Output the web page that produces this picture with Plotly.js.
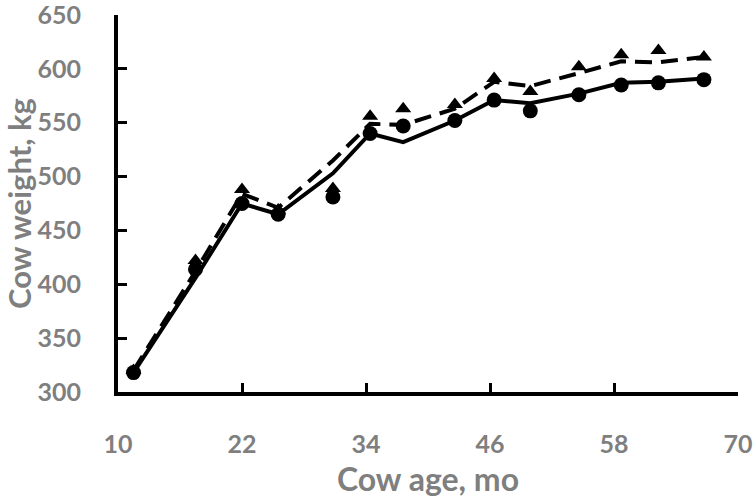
<!DOCTYPE html>
<html>
<head>
<meta charset="utf-8">
<script src="https://cdn.plot.ly/plotly-3.0.1.min.js"></script>
<style>
  html, body { margin: 0; padding: 0; background: #fff; }
  #chart { width: 755px; height: 498px; }
</style>
</head>
<body>
<div id="chart"></div>
<script>
// cow age (months) at each weighing
const ageMo = [11.5, 17.5, 22, 25.5, 30.8, 34.4, 37.6, 42.6, 46.4, 49.9, 54.6, 58.7, 62.3, 66.7];

// observed weights, kg
const obsCircle = [318, 414, 475, 465, 481, 540, 547, 552, 571, 561, 576, 585, 587, 590];
const obsTriangle = [320, 422, 488, 469, 489, 556, 563, 567, 591, 579, 602, 613, 617, 611];

// fitted weights, kg
const fitSolid = [318, 406, 475, 465, 503, 540, 532, 552, 571, 568, 577, 587, 588, 591];
const fitDashed = [320, 412, 484, 471, 515, 549, 548, 563, 588, 584, 596, 607, 606, 611];

const xTicks = [10, 22, 34, 46, 58, 70];
const yTicks = [300, 350, 400, 450, 500, 550, 600, 650];

const grey = "#7f7f7f";
const fontFam = "Lato, 'Open Sans', sans-serif";

const traces = [
  {
    x: ageMo, y: fitSolid, mode: "lines",
    line: {color: "#000", width: 4}
  },
  {
    x: ageMo, y: fitDashed, mode: "lines",
    line: {color: "#000", width: 4, dash: "17px,9px"}
  },
  {
    x: ageMo, y: obsTriangle, mode: "markers",
    marker: {symbol: "triangle-up", size: 14, color: "#000"}
  },
  {
    x: ageMo, y: obsCircle, mode: "markers",
    marker: {symbol: "circle", size: 15, color: "#000"}
  }
];

const layout = {
  width: 755, height: 498,
  margin: {l: 118, r: 17, t: 15, b: 106},
  paper_bgcolor: "#fff", plot_bgcolor: "#fff",
  showlegend: false,
  font: {family: fontFam, color: grey},
  xaxis: {
    range: [10, 70], tickvals: xTicks, ticktext: xTicks.map(String),
    showgrid: false, zeroline: false,
    showline: true, linecolor: "#000", linewidth: 4,
    ticks: "inside", ticklen: 9, tickwidth: 3, tickcolor: "#000",
    ticklabelstandoff: 27, ticklabeloverflow: "allow",
    tickfont: {family: fontFam, size: 25, color: grey, weight: "bold"},
    title: {text: "Cow age, mo", standoff: 14,
            font: {family: fontFam, size: 32, color: grey, weight: "bold"}}
  },
  yaxis: {
    range: [300, 650], tickvals: yTicks, ticktext: yTicks.map(String),
    showgrid: false, zeroline: false,
    showline: true, linecolor: "#000", linewidth: 4,
    ticks: "inside", ticklen: 9, tickwidth: 3, tickcolor: "#000",
    ticklabelstandoff: 28, ticklabeloverflow: "allow",
    tickfont: {family: fontFam, size: 25, color: grey, weight: "bold"},
    title: {text: "Cow weight, kg", standoff: 8,
            font: {family: fontFam, size: 31, color: grey, weight: "bold"}}
  }
};

Plotly.newPlot("chart", traces, layout, {displayModeBar: false, staticPlot: true});
</script>
</body>
</html>
